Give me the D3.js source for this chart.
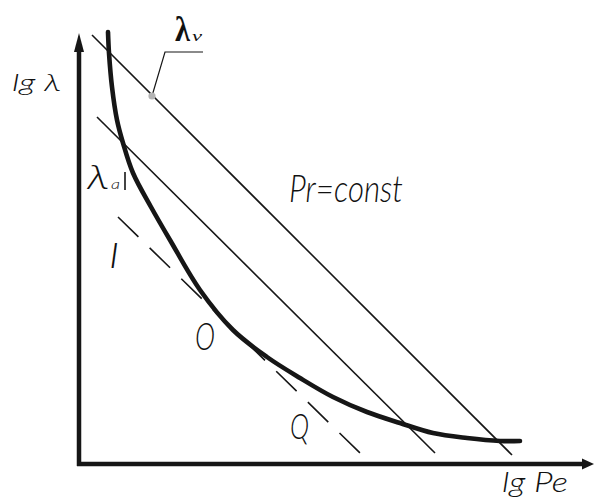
<!DOCTYPE html>
<html>
<head>
<meta charset="utf-8">
<script src="https://cdn.jsdelivr.net/npm/d3@7/dist/d3.min.js"></script>
<style>
  html, body { margin: 0; padding: 0; background: #fff; }
  svg { display: block; }
  .lbl { font-family: Lato, "Open Sans", "DejaVu Sans Condensed", sans-serif; font-weight: 300; font-style: italic; fill: #111; }
  .ser { font-family: "Liberation Serif", "DejaVu Serif", serif; fill: #111; }
</style>
</head>
<body>
<svg id="chart" width="594" height="499"></svg>
<script>
// Heat-transfer coefficient lg λ versus lg Pe (Pr = const)
// Main curve λ(Pe)
const curveX = [0.58, 0.60, 0.66, 0.76, 0.88, 1.08, 1.44, 1.82, 2.42, 3.08, 3.76, 4.42, 5.08, 5.76, 6.42, 7.08, 7.76, 8.42, 8.82];
const curveY = [8.64, 8.22, 7.54, 6.88, 6.42, 5.82, 5.14, 4.48, 3.48, 2.68, 2.14, 1.72, 1.34, 1.04, 0.82, 0.62, 0.52, 0.46, 0.46];

// Straight asymptotes: [x0, y0, x1, y1]
const lineV = [0.26, 8.58, 8.66, 0.18];      // λv branch
const lineA = [0.36, 6.94, 7.12, 0.22];      // λa branch
const lineDash = [0.78, 4.94, 5.62, 0.22];   // dashed asymptote through I–O–Q

// Marker on the λv line and its leader
const markV = [1.46, 7.36];
const leaderV = [[1.46, 7.36], [1.72, 8.24], [2.48, 8.24]];

const axisTitles = { y: "lg λ", x: "lg Pe" };
const constLabel = "Pr=const";
const pointLabels = ["I", "O", "Q"];

const svg = d3.select("#chart");
const x = d3.scaleLinear().domain([0, 10.3]).range([79, 594]);
const y = d3.scaleLinear().domain([0, 8.62]).range([464, 33]);

const ink = "#161616";

// Axes (domain lines only) with arrowheads
const gx = svg.append("g").attr("transform", `translate(0,${y(0)})`)
  .call(d3.axisBottom(x).tickValues([]).tickSizeOuter(0));
gx.select(".domain").attr("stroke", ink).attr("stroke-width", 4.5)
  .attr("d", `M${x(0) - 2},0H${x(10.3) - 10}`);
const gy = svg.append("g").attr("transform", `translate(${x(0)},0)`)
  .call(d3.axisLeft(y).tickValues([]).tickSizeOuter(0));
gy.select(".domain").attr("stroke", ink).attr("stroke-width", 4.5)
  .attr("d", `M0,${y(0) + 2}V${y(8.62) + 18}`);

svg.append("path")
  .attr("d", `M${x(10.3)},${y(0)} L${x(10.3) - 12},${y(0) - 5.5} L${x(10.3) - 12},${y(0) + 5.5} Z`)
  .attr("fill", ink);
svg.append("path")
  .attr("d", `M${x(0)},${y(8.62)} L${x(0) - 5},${y(8.62) + 19} L${x(0) + 5},${y(8.62) + 19} Z`)
  .attr("fill", ink);

// Straight lines
const seg = (s) => `M${x(s[0])},${y(s[1])}L${x(s[2])},${y(s[3])}`;
svg.append("path").attr("d", seg(lineV)).attr("stroke", ink).attr("stroke-width", 1.6).attr("fill", "none");
svg.append("path").attr("d", seg(lineA)).attr("stroke", ink).attr("stroke-width", 1.6).attr("fill", "none");
svg.append("path").attr("d", seg(lineDash)).attr("stroke", ink).attr("stroke-width", 1.6).attr("fill", "none")
  .attr("stroke-dasharray", "28.5 15.7");

// Main curve
const pts = curveX.map((v, i) => [v, curveY[i]]);
svg.append("path")
  .datum(pts)
  .attr("d", d3.line().x(d => x(d[0])).y(d => y(d[1])).curve(d3.curveCatmullRom.alpha(0.5)))
  .attr("fill", "none").attr("stroke", ink).attr("stroke-width", 4.6).attr("stroke-linecap", "round");

// λv leader and marker
svg.append("path")
  .datum(leaderV)
  .attr("d", d3.line().x(d => x(d[0])).y(d => y(d[1])))
  .attr("fill", "none").attr("stroke", ink).attr("stroke-width", 1.2);
svg.append("circle").attr("cx", x(markV[0])).attr("cy", y(markV[1])).attr("r", 3.6)
  .attr("fill", "#b4b4b4");

// Text helper: baseline-left position, size and fitted width
function label(txt, px, py, size, width, cls) {
  return svg.append("text").attr("class", cls || "lbl")
    .attr("x", px).attr("y", py).attr("font-size", size)
    .attr("textLength", width).attr("lengthAdjust", "spacingAndGlyphs")
    .text(txt);
}

// Axis titles
label(axisTitles.y, 12, 91, 24, 49);
label(axisTitles.x, 502, 492, 28, 66);

// Pr = const
label(constLabel, 289, 202, 37, 114);

// Point labels I, O, Q
label(pointLabels[0], 109, 268, 36, 10);
label(pointLabels[1], 195, 350, 37, 20);
label(pointLabels[2], 290, 439, 36, 19);

// λv (serif)
label("λ", 175, 41, 36, 15, "ser").attr("font-weight", "bold");
label("v", 192, 41, 14, 10, "ser").attr("font-style", "italic");

// λa with tick
label("λ", 87, 189, 34, 22);
label("a", 111, 189, 13, 9);
svg.append("line").attr("x1", 125).attr("y1", 172).attr("x2", 125).attr("y2", 190)
  .attr("stroke", ink).attr("stroke-width", 1.6);
</script>
</body>
</html>
